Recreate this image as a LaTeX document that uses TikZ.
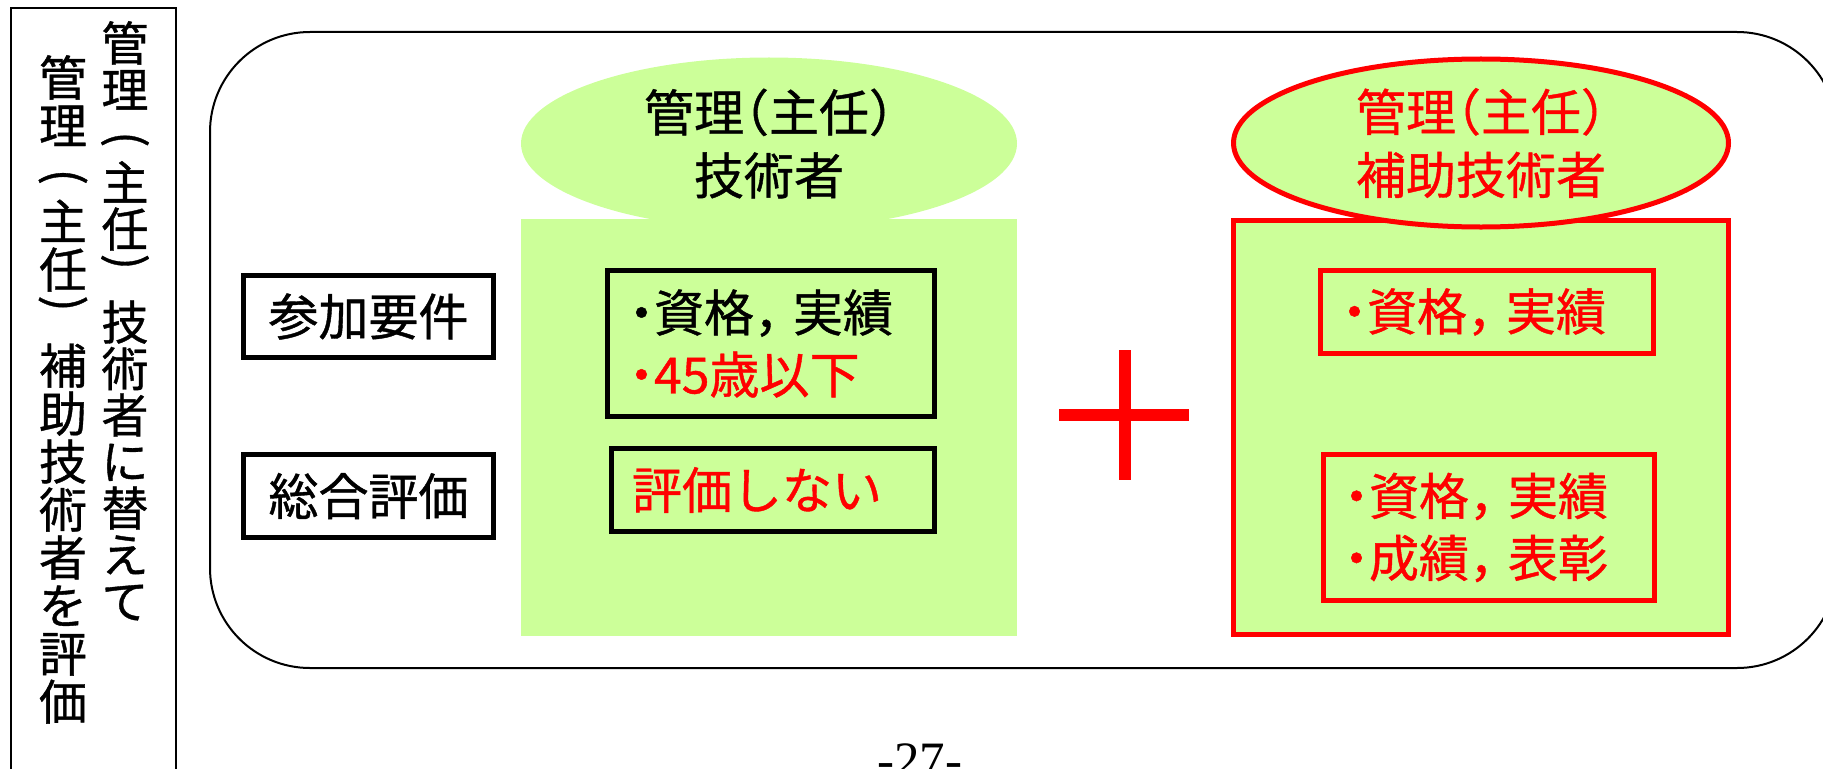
\documentclass[tikz,border=0pt]{standalone}
\usepackage{fontspec}
\usetikzlibrary{shapes.geometric}
\newfontfamily\jp[FakeBold=0.8]{Noto Sans CJK JP}
\newfontfamily\jph[RawFeature=+halt,FakeBold=0.8]{Noto Sans CJK JP}
\newfontfamily\numserif{Liberation Serif}
\definecolor{lgreen}{RGB}{204,255,153}
\definecolor{pred}{RGB}{255,0,0}
\newcommand\vop{\rotatebox[origin=c]{-90}{(}}
\newcommand\vcl{\raisebox{0.36em}{\rotatebox[origin=c]{-90}{)}}}
\begin{document}
\begin{tikzpicture}[x=1bp,y=-1bp,
  jtext/.style={font=\jph\fontsize{50bp}{62bp}\selectfont, inner sep=0pt},
  blackbox/.style={jtext, rectangle, draw=black, line width=5bp},
  redbox/.style={jtext, rectangle, draw=pred, line width=5bp, text=pred},
  vtext/.style={inner sep=0pt, align=center, anchor=north},
  ovl/.style={ellipse, inner sep=0pt, align=center, fill=lgreen,
    font=\jph\fontsize{50bp}{63bp}\selectfont}
]
\useasboundingbox (0,0) rectangle (1823,769);

% left title box with vertical text
\draw[line width=2bp] (11,8) rectangle (176,800);
\node[vtext, font=\jp\fontsize{47bp}{46.5bp}\selectfont] (colR) at (125,21)
  {管\\理\\\vop\\主\\任\\\vcl\\技\\術\\者\\に\\替\\え\\て};
\node[vtext, font=\jp\fontsize{48bp}{48bp}\selectfont] (colL) at (63,55)
  {管\\理\\\vop\\主\\任\\\vcl\\補\\助\\技\\術\\者\\を\\評\\価};

% outer rounded frame
\draw[line width=2bp, rounded corners=100bp] (210,32) rectangle (1837,668);

% left column (main engineer)
\fill[lgreen] (521,219) rectangle (1017,636);
\node[ovl, minimum width=496bp, minimum height=172bp] (ellL) at (769,143.5)
  {管理（主任）\\技術者};

% right column (assistant engineer)
\draw[pred, line width=5bp, fill=lgreen] (1233.5,220.5) rectangle (1728.5,634.5);
\node[ovl, draw=pred, line width=5bp, text=pred, minimum width=495bp, minimum height=168bp]
  (ellR) at (1481,143) {管理（主任）\\補助技術者};

% row labels
\node[blackbox, minimum width=250bp, minimum height=82bp] (req) at (368.5,316.5) {参加要件};
\node[blackbox, minimum width=250bp, minimum height=83bp] (eval) at (368.5,496) {総合評価};

% left column boxes
\node[blackbox, minimum width=327bp, minimum height=146bp, inner xsep=21.5bp,
  text width=284bp, align=left] (reqA) at (771,343.5)
  {・資格，\kern0.28em 実績\\\textcolor{pred}{・45歳以下}};
\node[blackbox, minimum width=323bp, minimum height=83bp, inner xsep=20.5bp,
  text width=282bp, align=left, text=pred] (evalA) at (773,490) {評価しない};

% plus sign
\draw[pred, line width=12bp] (1059,415) -- (1189,415);
\draw[pred, line width=12bp] (1124.5,350) -- (1124.5,480);

% right column boxes
\node[redbox, minimum width=333bp, minimum height=83bp, inner xsep=21.5bp,
  text width=290bp, align=left] (reqB) at (1487,312)
  {・資格，\kern0.28em 実績};
\node[redbox, minimum width=331bp, minimum height=146bp, inner xsep=20.5bp,
  text width=290bp, align=left] (evalB) at (1489,527.5)
  {・資格，\kern0.28em 実績\\・成績，\kern0.28em 表彰};

% page number
\node[font=\numserif\fontsize{51bp}{51bp}\selectfont, anchor=base, inner sep=0pt]
  (pnum) at (919.5,777) {-27-};
\end{tikzpicture}
\end{document}
